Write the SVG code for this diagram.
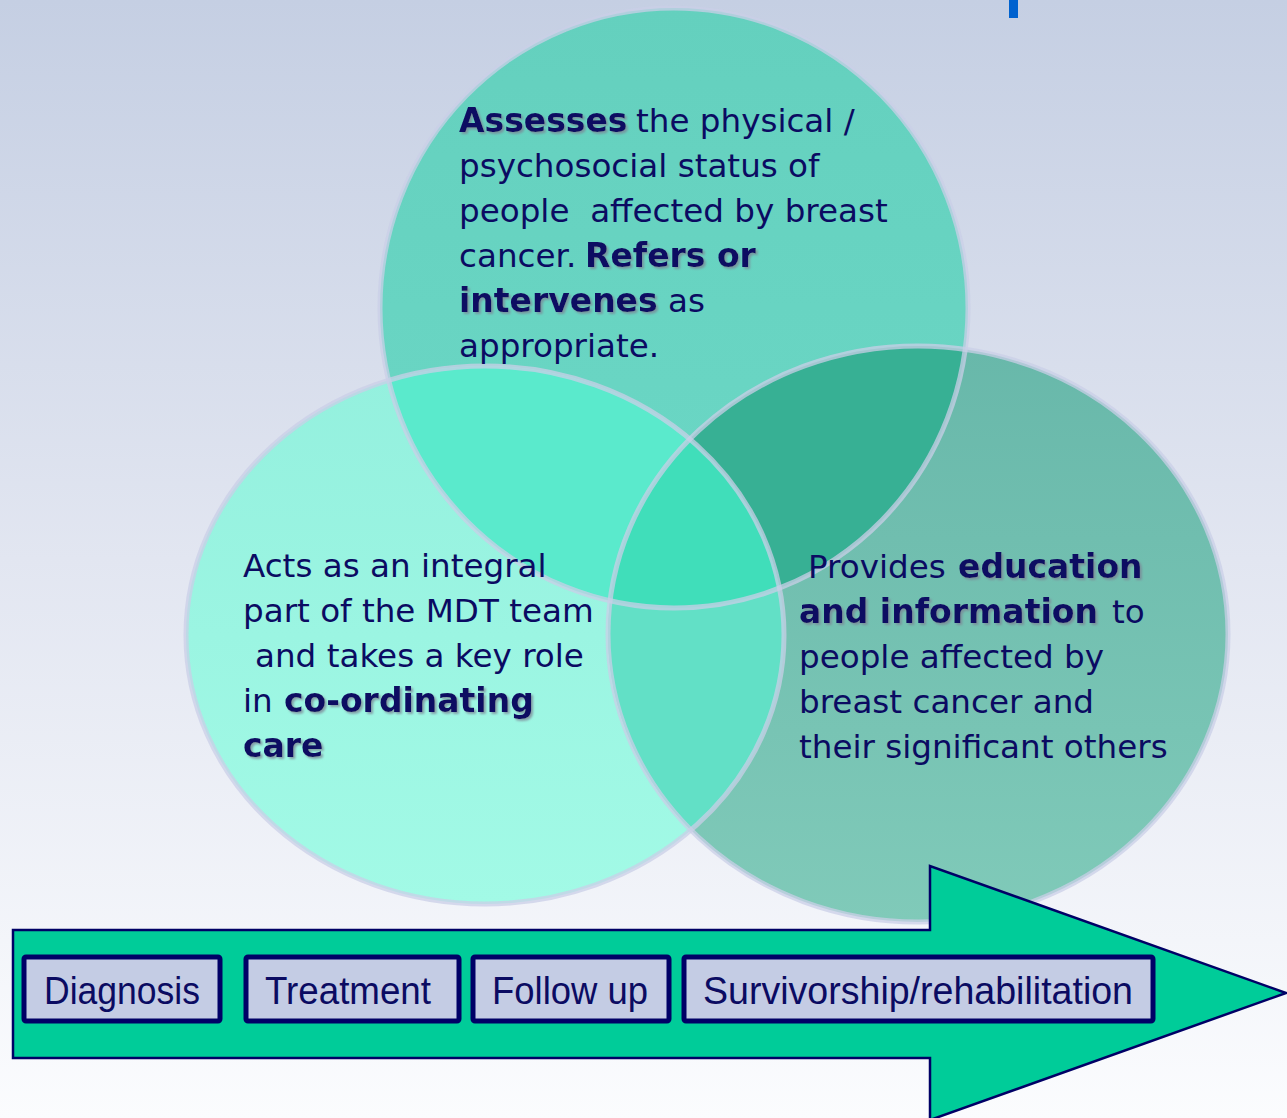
<svg xmlns="http://www.w3.org/2000/svg" width="1287" height="1118" viewBox="0 0 1287 1118">
<defs>
<linearGradient id="bg" x1="0" y1="0" x2="0" y2="1">
<stop offset="0" stop-color="#C5CFE3"/>
<stop offset="0.5" stop-color="#E2E6F1"/>
<stop offset="1" stop-color="#FBFCFE"/>
</linearGradient>
<linearGradient id="gTop" x1="0" y1="0" x2="0" y2="1">
<stop offset="0" stop-color="#64D0BE"/>
<stop offset="1" stop-color="#6CD8C6"/>
</linearGradient>
<linearGradient id="gLeft" x1="0" y1="0" x2="0" y2="1">
<stop offset="0" stop-color="#94F0DE"/>
<stop offset="1" stop-color="#A2FAE6"/>
</linearGradient>
<linearGradient id="gRight" x1="0" y1="0" x2="0" y2="1">
<stop offset="0" stop-color="#68B8AA"/>
<stop offset="1" stop-color="#80CAB9"/>
</linearGradient>
<clipPath id="cTop"><ellipse cx="674" cy="308" rx="294" ry="300"/></clipPath>
<clipPath id="cLeft"><ellipse cx="485" cy="635" rx="299" ry="269"/></clipPath>
<clipPath id="cRight"><ellipse cx="918" cy="634" rx="310" ry="288"/></clipPath>
<filter id="sh" x="-10%" y="-20%" width="120%" height="150%">
<feDropShadow dx="2" dy="2" stdDeviation="1" flood-color="#7C8494" flood-opacity="0.75"/>
</filter>
</defs>
<style>
.t{font-family:"DejaVu Sans",Verdana,sans-serif;font-size:32.6px;fill:#0B0B62;white-space:pre}
.b{font-weight:bold;font-size:33px;filter:url(#sh)}
.ring{fill:none;stroke:#C9CFE7;stroke-width:5;stroke-opacity:0.75}
.box{fill:#C4CCE4;stroke:#000066;stroke-width:5}
.bl{font-family:"Liberation Sans",Arial,sans-serif;font-size:38px;fill:#0B0B62}
</style>
<rect x="0" y="0" width="1287" height="1118" fill="url(#bg)"/>
<rect x="1009" y="0" width="9" height="18" fill="#0062CF"/>

<g id="circles">
<g id="circle-top">
<ellipse cx="674" cy="308" rx="294" ry="300" fill="url(#gTop)"/>
</g>
<g id="circle-left">
<ellipse cx="485" cy="635" rx="299" ry="269" fill="url(#gLeft)"/>
</g>
<g id="circle-right">
<ellipse cx="918" cy="634" rx="310" ry="288" fill="url(#gRight)"/>
</g>
<g id="overlaps">
<ellipse cx="485" cy="635" rx="299" ry="269" fill="#5AEACC" clip-path="url(#cTop)"/>
<ellipse cx="918" cy="634" rx="310" ry="288" fill="#37B094" clip-path="url(#cTop)"/>
<ellipse cx="918" cy="634" rx="310" ry="288" fill="#62E0C6" clip-path="url(#cLeft)"/>
<g clip-path="url(#cTop)"><ellipse cx="918" cy="634" rx="310" ry="288" fill="#40DEBA" clip-path="url(#cLeft)"/></g>
</g>
<g id="rings">
<ellipse class="ring" cx="674" cy="308" rx="294" ry="300"/>
<ellipse class="ring" cx="485" cy="635" rx="299" ry="269"/>
<ellipse class="ring" cx="918" cy="634" rx="310" ry="288"/>
</g>
</g>

<g id="text-top">
<text class="t b" x="459" y="132">Assesses</text>
<text class="t" x="636" y="132">the physical /</text>
<text class="t" x="459" y="177">psychosocial status of</text>
<text class="t" x="459" y="222">people  affected by breast</text>
<text class="t" x="459" y="267">cancer.</text>
<text class="t b" x="585" y="267">Refers or</text>
<text class="t b" x="459" y="312">intervenes</text>
<text class="t" x="668" y="312">as</text>
<text class="t" x="459" y="357">appropriate.</text>
</g>

<g id="text-left">
<text class="t" x="243" y="577">Acts as an integral</text>
<text class="t" x="243" y="622">part of the MDT team</text>
<text class="t" x="255" y="667">and takes a key role</text>
<text class="t" x="243" y="712">in</text>
<text class="t b" x="284" y="712">co-ordinating</text>
<text class="t b" x="243" y="757">care</text>
</g>

<g id="text-right">
<text class="t" x="808" y="578">Provides</text>
<text class="t b" x="958" y="578">education</text>
<text class="t b" x="799" y="623">and information</text>
<text class="t" x="1112" y="623">to</text>
<text class="t" x="799" y="668">people affected by</text>
<text class="t" x="799" y="713">breast cancer and</text>
<text class="t" x="799" y="758">their significant others</text>
</g>

<g id="connectors">
<g id="timeline-arrow">
<polygon points="13,930 930,930 930,866 1286,993 930,1120 930,1058 13,1058" fill="#00CC99" stroke="#000066" stroke-width="2.5" stroke-linejoin="miter"/>
</g>
</g>

<g id="box-diagnosis">
<rect class="box" x="24" y="957" width="196" height="64" rx="2"/>
<text class="bl" x="44" y="1004" textLength="156" lengthAdjust="spacingAndGlyphs">Diagnosis</text>
</g>
<g id="box-treatment">
<rect class="box" x="246" y="957" width="213" height="64" rx="2"/>
<text class="bl" x="265" y="1004" textLength="166" lengthAdjust="spacingAndGlyphs">Treatment</text>
</g>
<g id="box-followup">
<rect class="box" x="473" y="957" width="196" height="64" rx="2"/>
<text class="bl" x="492" y="1004" textLength="156" lengthAdjust="spacingAndGlyphs">Follow up</text>
</g>
<g id="box-survivorship">
<rect class="box" x="684" y="957" width="469" height="64" rx="2"/>
<text class="bl" x="703" y="1004" textLength="430" lengthAdjust="spacingAndGlyphs">Survivorship/rehabilitation</text>
</g>
</svg>
